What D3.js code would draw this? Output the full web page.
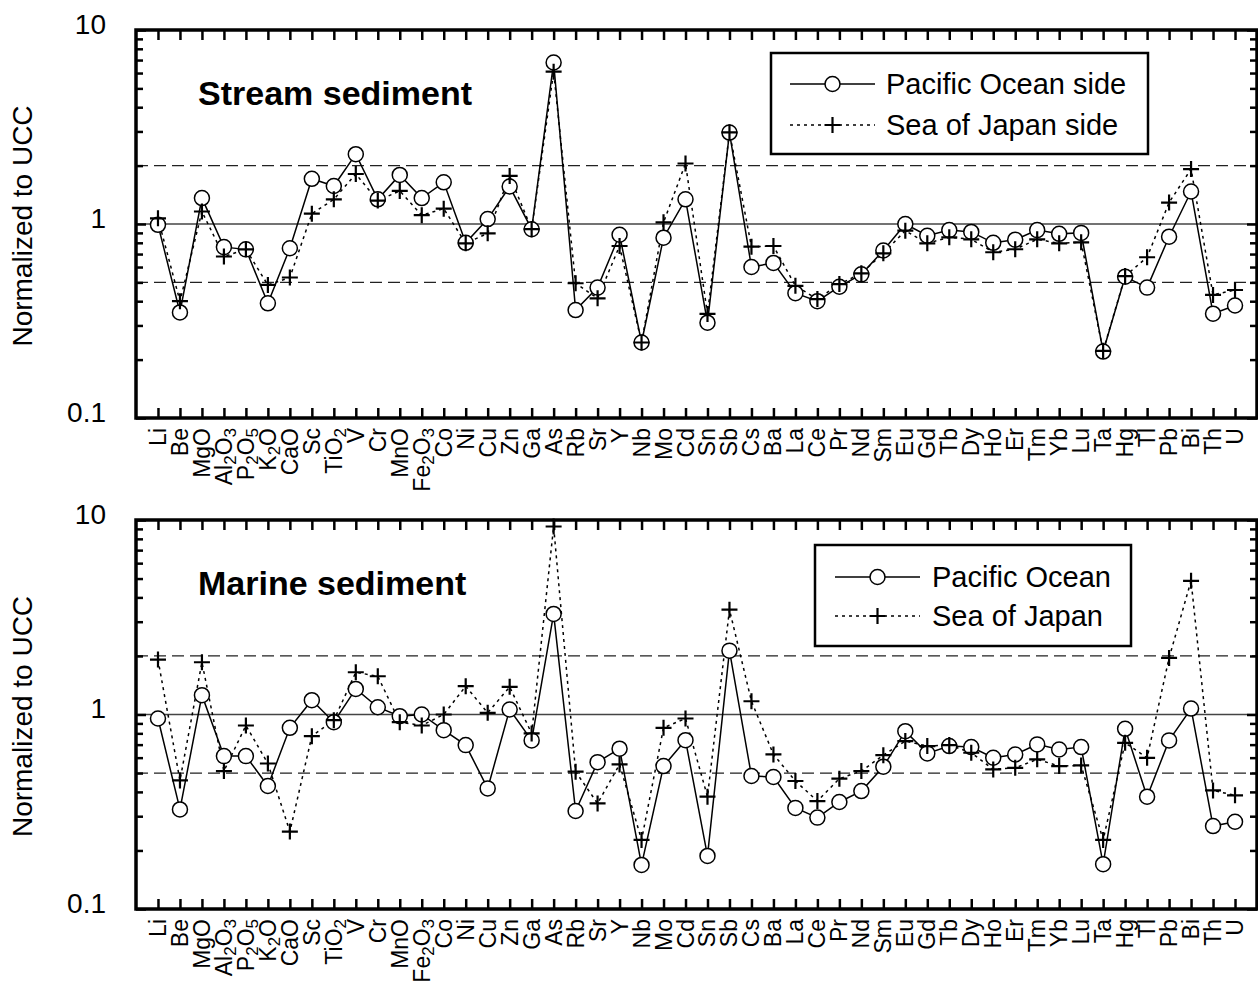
<!DOCTYPE html>
<html>
<head>
<meta charset="utf-8">
<script src="https://cdn.jsdelivr.net/npm/d3@7"></script>
<style>
	body { margin: 0; background: #fff; }
	text { font-family: "Liberation Sans", Arial, sans-serif; fill: #000; }
</style>
</head>
<body>
<div id="chart-area"></div>
<script>

// categories (elements / oxides)
let elements = ["Li","Be","MgO","Al2O3","P2O5","K2O","CaO","Sc","TiO2","V",
	"Cr","MnO","Fe2O3","Co","Ni","Cu","Zn","Ga","As","Rb",
	"Sr","Y","Nb","Mo","Cd","Sn","Sb","Cs","Ba","La",
	"Ce","Pr","Nd","Sm","Eu","Gd","Tb","Dy","Ho","Er",
	"Tm","Yb","Lu","Ta","Hg","Tl","Pb","Bi","Th","U"];

// stream sediment, normalized to UCC
let streamPacific = [0.99,0.35,1.36,0.76,0.74,0.39,0.75,1.71,1.57,2.29,
	1.34,1.79,1.36,1.64,0.80,1.06,1.56,0.94,6.8,0.36,
	0.47,0.88,0.245,0.85,1.34,0.31,2.96,0.60,0.63,0.44,
	0.40,0.475,0.55,0.73,1.0,0.87,0.93,0.91,0.80,0.83,
	0.93,0.89,0.90,0.22,0.535,0.47,0.86,1.47,0.345,0.38];

let streamJapan = [1.07,0.40,1.16,0.68,0.74,0.485,0.53,1.13,1.34,1.81,
	1.32,1.48,1.11,1.2,0.795,0.895,1.77,0.94,6.1,0.495,
	0.414,0.77,0.245,1.02,2.05,0.344,2.97,0.764,0.77,0.48,
	0.41,0.49,0.557,0.706,0.924,0.795,0.854,0.834,0.715,0.741,
	0.834,0.795,0.805,0.222,0.539,0.674,1.29,1.92,0.431,0.457];

// marine sediment, normalized to UCC
let marinePacific = [0.954,0.325,1.257,0.611,0.611,0.429,0.854,1.185,0.913,1.354,
	1.09,0.98,1.0,0.831,0.696,0.417,1.061,0.736,3.29,0.319,
	0.569,0.667,0.1685,0.543,0.738,0.1875,2.13,0.483,0.477,0.331,
	0.295,0.355,0.404,0.539,0.821,0.631,0.688,0.68,0.599,0.623,
	0.702,0.661,0.68,0.17,0.844,0.378,0.736,1.073,0.267,0.281];

let marineJapan = [1.915,0.458,1.856,0.512,0.878,0.56,0.25,0.774,0.935,1.649,
	1.573,0.913,0.878,1.0,1.398,1.02,1.387,0.799,9.26,0.508,
	0.349,0.554,0.2265,0.854,0.954,0.378,3.46,1.17,0.623,0.455,
	0.359,0.468,0.512,0.618,0.73,0.688,0.696,0.636,0.522,0.532,
	0.588,0.543,0.547,0.2265,0.715,0.599,1.953,4.87,0.407,0.384];

// y tick labels and reference lines
let yLabels = [0.1, 1, 10];
let refSolid = [1];
let refDashed = [0.5, 2];

let streamLegend = ["Pacific Ocean side", "Sea of Japan side"];
let marineLegend = ["Pacific Ocean", "Sea of Japan"];


// SVG Size
let width = 1258,
	height = 988;

let svg = d3.select("#chart-area").append("svg")
	.attr("width", width)
	.attr("height", height);

let plotLeft = 136,
	plotWidth = 1121;

drawPanel({
	top: 30, h: 388,
	title: "Stream sediment",
	pacific: streamPacific, japan: streamJapan,
	legend: streamLegend,
	box: {x: 635, y: 23, w: 377, h: 101, rows: [31, 72], lx1: 19, lx2: 104, tx: 115}
});

drawPanel({
	top: 520, h: 389,
	title: "Marine sediment",
	pacific: marinePacific, japan: marineJapan,
	legend: marineLegend,
	box: {x: 679, y: 25, w: 316, h: 101, rows: [32, 71], lx1: 20, lx2: 105, tx: 117}
});


function drawPanel(p) {

	let g = svg.append("g")
		.attr("transform", `translate(${plotLeft}, ${p.top})`);

	// scales
	let x = d3.scalePoint()
		.domain(elements)
		.range([0, plotWidth])
		.padding(1);

	let y = d3.scaleLog()
		.domain([0.1, 10])
		.range([p.h, 0]);

	let minor = [];
	[0.1, 1].forEach(d => {
		for (let k = 2; k <= 9; k++) minor.push(+(d * k).toFixed(2));
	});

	// reference lines
	g.selectAll(".ref-solid").data(refSolid).enter().append("line")
		.attr("x1", 0).attr("x2", plotWidth)
		.attr("y1", d => y(d)).attr("y2", d => y(d))
		.attr("stroke", "#444").attr("stroke-width", 1.3);

	g.selectAll(".ref-dash").data(refDashed).enter().append("line")
		.attr("x1", 0).attr("x2", plotWidth)
		.attr("y1", d => y(d)).attr("y2", d => y(d))
		.attr("stroke", "#222").attr("stroke-width", 1.3)
		.attr("stroke-dasharray", "12,6");

	// axes (ticks point inward)
	let axes = [
		{ax: d3.axisBottom(x).tickSize(-10), t: `translate(0, ${p.h})`},
		{ax: d3.axisTop(x).tickSize(-10), t: "translate(0, 0)"},
		{ax: d3.axisLeft(y).tickValues(minor).tickSize(-7), t: "translate(0, 0)"},
		{ax: d3.axisLeft(y).tickValues(yLabels).tickSize(-10), t: "translate(0, 0)"},
		{ax: d3.axisRight(y).tickValues(minor).tickSize(-7), t: `translate(${plotWidth}, 0)`},
		{ax: d3.axisRight(y).tickValues(yLabels).tickSize(-10), t: `translate(${plotWidth}, 0)`}
	];
	axes.forEach(a => {
		let ag = g.append("g")
			.attr("transform", a.t)
			.call(a.ax.tickFormat(""));
		ag.select(".domain").remove();
		ag.selectAll("line").attr("stroke", "#000").attr("stroke-width", 2.5);
	});

	// series lines
	let line = d3.line()
		.x((d, i) => x(elements[i]))
		.y(d => y(d));

	g.append("path")
		.datum(p.japan)
		.attr("d", line)
		.attr("fill", "none")
		.attr("stroke", "#000")
		.attr("stroke-width", 1.5)
		.attr("stroke-dasharray", "3,4");

	g.append("path")
		.datum(p.pacific)
		.attr("d", line)
		.attr("fill", "none")
		.attr("stroke", "#000")
		.attr("stroke-width", 1.5);

	g.selectAll(".pac").data(p.pacific).enter().append("circle")
		.attr("cx", (d, i) => x(elements[i]))
		.attr("cy", d => y(d))
		.attr("r", 7.5)
		.attr("fill", "#fff")
		.attr("stroke", "#000")
		.attr("stroke-width", 1.5);

	let plus = "M-8,0H8M0,-8V8";
	g.selectAll(".jap").data(p.japan).enter().append("path")
		.attr("d", plus)
		.attr("transform", (d, i) => `translate(${x(elements[i])}, ${y(d)})`)
		.attr("stroke", "#000")
		.attr("stroke-width", 2.2);

	// frame
	g.append("rect")
		.attr("width", plotWidth)
		.attr("height", p.h)
		.attr("fill", "none")
		.attr("stroke", "#000")
		.attr("stroke-width", 3.5);

	// y tick labels
	g.selectAll(".ylab").data(yLabels).enter().append("text")
		.attr("x", -30)
		.attr("y", d => y(d) + 3.5)
		.attr("text-anchor", "end")
		.attr("font-size", 28)
		.text(d => d);

	// y title
	g.append("text")
		.attr("transform", `translate(-114, ${p.h / 2 + 2}) rotate(-90)`)
		.attr("text-anchor", "middle")
		.attr("dy", "0.35em")
		.attr("font-size", 28)
		.text("Normalized to UCC");

	// x labels, digits as subscripts
	let xl = g.selectAll(".xlab").data(elements).enter().append("text")
		.attr("transform", d => `translate(${x(d) + 8}, ${p.h + 10}) rotate(-90)`)
		.attr("text-anchor", "end")
		.attr("font-size", 23);

	xl.each(function(d) {
		let t = d3.select(this);
		let parts = d.match(/[A-Za-z]+|\d+/g);
		let sub = false;
		parts.forEach(s => {
			let isNum = /\d/.test(s);
			let dy = 0;
			if (isNum && !sub) dy = 4;
			if (!isNum && sub) dy = -4;
			sub = isNum;
			t.append("tspan")
				.attr("dy", dy)
				.attr("font-size", isNum ? 17 : 23)
				.text(s);
		});
	});

	// panel title
	g.append("text")
		.attr("x", 62)
		.attr("y", 75)
		.attr("font-size", 34)
		.attr("font-weight", "bold")
		.text(p.title);

	// legend
	let b = p.box;
	let lg = g.append("g").attr("transform", `translate(${b.x}, ${b.y})`);

	lg.append("rect")
		.attr("width", b.w).attr("height", b.h)
		.attr("fill", "#fff")
		.attr("stroke", "#000")
		.attr("stroke-width", 2.5);

	let mid = (b.lx1 + b.lx2) / 2;

	lg.append("line")
		.attr("x1", b.lx1).attr("x2", b.lx2)
		.attr("y1", b.rows[0]).attr("y2", b.rows[0])
		.attr("stroke", "#000").attr("stroke-width", 1.5);
	lg.append("circle")
		.attr("cx", mid).attr("cy", b.rows[0]).attr("r", 7.5)
		.attr("fill", "#fff").attr("stroke", "#000").attr("stroke-width", 1.5);

	lg.append("line")
		.attr("x1", b.lx1).attr("x2", b.lx2)
		.attr("y1", b.rows[1]).attr("y2", b.rows[1])
		.attr("stroke", "#000").attr("stroke-width", 1.5)
		.attr("stroke-dasharray", "3,4");
	lg.append("path")
		.attr("d", plus)
		.attr("transform", `translate(${mid}, ${b.rows[1]})`)
		.attr("stroke", "#000").attr("stroke-width", 2.2);

	lg.selectAll(".ltext").data(p.legend).enter().append("text")
		.attr("x", b.tx)
		.attr("y", (d, i) => b.rows[i])
		.attr("dy", "0.35em")
		.attr("font-size", 29)
		.text(d => d);
}

</script>
</body>
</html>
